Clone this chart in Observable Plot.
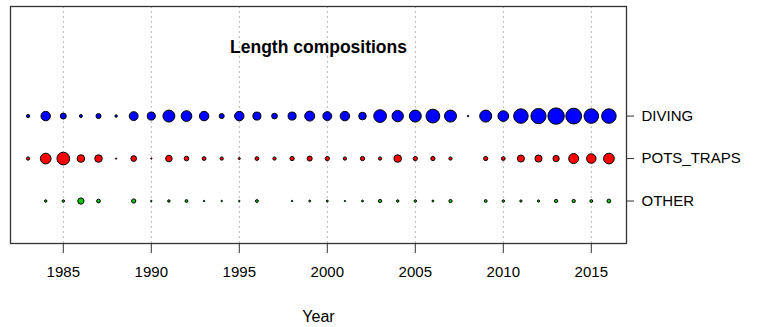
<!DOCTYPE html>
<html>
<head>
<meta charset="utf-8">
<script src="https://cdn.jsdelivr.net/npm/d3@7"></script>
<script src="https://cdn.jsdelivr.net/npm/@observablehq/plot@0.6"></script>
<style>
  html, body { margin: 0; padding: 0; background: #fff; }
  #chart svg { display: block; }
</style>
</head>
<body>
<div id="chart"></div>
<script>
// ---- data ----
const title = "Length compositions";
const xLabel = "Year";
const fleets = ["DIVING", "POTS_TRAPS", "OTHER"];
const fleetRow = [3, 2, 1];
const fleetColors = ["#0000ff", "#ff0000", "#00c800"];
const xTicks = [1985, 1990, 1995, 2000, 2005, 2010, 2015];
const years = [1983,1984,1985,1986,1987,1988,1989,1990,1991,1992,1993,1994,1995,1996,1997,1998,1999,
               2000,2001,2002,2003,2004,2005,2006,2007,2008,2009,2010,2011,2012,2013,2014,2015,2016];
// relative sample sizes (bubble area)
const diving = [3,25,10,2.5,7,1.7,22,18,40,32,25,7,25,18,9,18,28,
                22,25,16,45,36,40,53,40,0.6,40,32,59,64,75,69,59,59];
const potsTraps = [3,32,45,16,16,0.5,9,0.5,12,6,4,3,1.2,4,3,5,7,
                   5,3,5,3,16,5,5,3,null,5,4,14,14,11,28,25,32];
const other = [null,1.7,1.7,11,4,null,5,0.6,1.7,2.2,0.6,0.6,0.6,2.2,null,0.6,1,
               1,0.5,1,3,1.7,1.7,1,3,null,2.2,1.7,1.4,1.4,3,3,2.2,4];

const series = [diving, potsTraps, other];
const data = [];
series.forEach((vals, i) => {
  vals.forEach((v, j) => {
    if (v != null) data.push({year: years[j], fleet: fleets[i], row: fleetRow[i], n: v});
  });
});

const font = "'Liberation Sans', Arial, sans-serif";

const chart = Plot.plot({
  width: 766,
  height: 327,
  marginLeft: 10,
  marginRight: 140,
  marginTop: 6,
  marginBottom: 84,
  style: {fontFamily: font, fontSize: "15px", color: "#000", background: "#fff"},
  x: {domain: [1982, 2017], label: null},
  y: {domain: [0, 5.58], label: null},
  r: {type: "sqrt", domain: [0, 75], range: [0, 8.2]},
  color: {domain: fleets, range: fleetColors},
  marks: [
    Plot.gridX(xTicks, {stroke: "#b8b8b8", strokeOpacity: 1, strokeDasharray: "2,3"}),
    Plot.frame({stroke: "#333", strokeWidth: 1.3}),
    Plot.axisX({ticks: xTicks, tickFormat: d => String(d), tickSize: 10, tickPadding: 13,
                label: null, stroke: "#333", fontSize: 15}),
    Plot.axisY({anchor: "right", ticks: fleetRow, tickFormat: d => fleets[fleetRow.indexOf(d)],
                tickSize: 7, tickPadding: 8, label: null, stroke: "#333", fontSize: 15}),
    Plot.dot(data, {x: "year", y: "row", r: "n", fill: "fleet", stroke: "#000", strokeWidth: 1}),
    Plot.text([title], {frameAnchor: "top", dy: 34, fontWeight: "bold", fontSize: 17.5}),
    Plot.text([xLabel], {frameAnchor: "bottom", dy: 78, fontSize: 16})
  ]
});
document.getElementById("chart").appendChild(chart);
</script>
</body>
</html>
